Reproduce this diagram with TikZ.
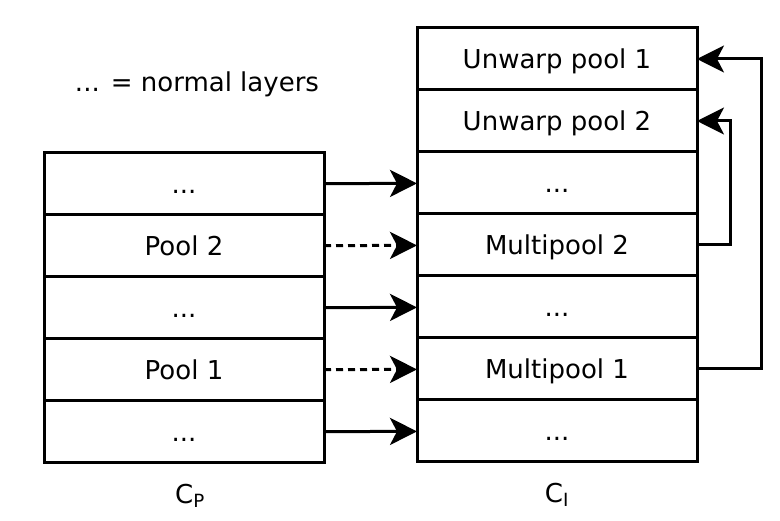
\documentclass[tikz,border=0pt]{standalone}
\usepackage{fontspec}
\setmainfont{DejaVu Sans}
\usetikzlibrary{positioning,arrows.meta}

\begin{document}
\begin{tikzpicture}[x=1pt,y=-1pt,
    font=\fontsize{26}{31}\selectfont,
    layer/.style={draw,line width=3pt,minimum width=280pt,minimum height=62pt,
      inner sep=0pt,outer sep=0pt,text height=19pt,text depth=0pt},
    tag/.style={inner sep=0pt,text height=19pt,text depth=0pt},
    link/.style={line width=3pt,-{Stealth[length=27pt,width=27pt,inset=7pt]}}]
      \useasboundingbox (0,0) rectangle (780,521);
      % left stack
      \node[layer,anchor=north west] (p5) at (44,153) {...};
      \node[layer,below=0pt of p5] (p4) {Pool 2};
      \node[layer,below=0pt of p4] (p3) {...};
      \node[layer,below=0pt of p3] (p2) {Pool 1};
      \node[layer,below=0pt of p2] (p1) {...};
      % right stack
      \node[layer,anchor=north west] (uw1) at (417,28) {Unwarp pool 1};
      \node[layer,below=0pt of uw1] (uw2) {Unwarp pool 2};
      \node[layer,below=0pt of uw2] (i5) {...};
      \node[layer,below=0pt of i5] (mp2) {Multipool 2};
      \node[layer,below=0pt of mp2] (i3) {...};
      \node[layer,below=0pt of i3] (mp1) {Multipool 1};
      \node[layer,below=0pt of mp1] (i1) {...};
      \node[tag] (legend) at (197,82) {... = normal layers};
      \node[tag,below=21pt of p1,xshift=6pt] (cp) {C\textsubscript{P}};
      \node[tag,below=21pt of i1] (ci) {C\textsubscript{I}};
      \draw[link] (p5) -- (i5);
      \draw[link,dash pattern=on 7pt off 5pt] (p4) -- (mp2);
      \draw[link] (p3) -- (i3);
      \draw[link,dash pattern=on 7pt off 5pt] (p2) -- (mp1);
      \draw[link] (p1) -- (i1);
      \draw[link] (mp2.east) -- ++(33,0) |- (uw2.east);
      \draw[link] (mp1.east) -- ++(64,0) |- (uw1.east);
    \end{tikzpicture}
\end{document}
